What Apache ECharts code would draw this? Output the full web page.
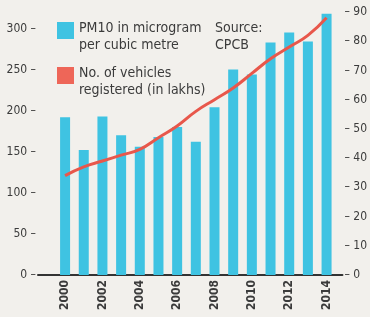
<!DOCTYPE html>
<html>
  <head>
    <meta charset="utf-8">
    <title>PM10 and vehicles</title>
    <script src="https://cdn.jsdelivr.net/npm/echarts@6/dist/echarts.min.js"></script>
    <style>
      html, body { margin: 0; padding: 0; background: #f2f0ec; }
      #main { width: 370px; height: 317px; }
    </style>
  </head>
  <body>
    <div id="main"></div>
    <script type="text/javascript">
    var years = [2000, 2001, 2002, 2003, 2004, 2005, 2006, 2007, 2008, 2009, 2010, 2011, 2012, 2013, 2014];
    var pm10 = [192, 152, 193, 170, 156, 168, 180, 162, 204, 250, 244, 283, 295, 284, 318];
    var vehicles = [34, 37, 39, 41, 43, 47, 51, 56, 60, 64, 69, 74, 78, 82, 88];
    var yearLabels = [2000, 2002, 2004, 2006, 2008, 2010, 2012, 2014];
    var leftTicks = [0, 50, 100, 150, 200, 250, 300];

    var font = '"DejaVu Sans Condensed", "Liberation Sans Narrow", sans-serif';
    var ink = '#3b3b3b';
    var cyan = '#3fc3e2';
    var red = '#e8574b';

    var myChart = echarts.init(document.getElementById('main'));

    function pairs(vals) {
        return vals.map(function (v, i) { return [years[i], v]; });
    }

    myChart.setOption({
        backgroundColor: '#f2f0ec',
        animation: false,
        textStyle: { fontFamily: font },
        grid: { left: 38, right: 27, top: 12, bottom: 42 },
        xAxis: {
            type: 'value',
            min: 1998.55,
            max: 2014.85,
            splitLine: { show: false },
            axisLine: { show: true, lineStyle: { color: '#333', width: 2 } },
            axisTick: { show: false },
            axisLabel: {
                customValues: yearLabels,
                rotate: 90,
                margin: 5,
                color: ink,
                fontSize: 12,
                fontWeight: 'bold',
                fontFamily: font,
                formatter: function (v) { return String(v); }
            }
        },
        yAxis: [{
            type: 'value',
            min: 0,
            max: 320,
            interval: 50,
            splitLine: { show: false },
            axisLine: { show: false },
            axisTick: { show: false },
            axisLabel: {
                margin: 2,
                color: ink,
                fontSize: 12,
                fontFamily: font,
                formatter: function (v) {
                    return leftTicks.indexOf(v) < 0 ? '' : v + ' \u2013';
                }
            }
        }, {
            type: 'value',
            min: 0,
            max: 90,
            interval: 10,
            splitLine: { show: false },
            axisLine: { show: false },
            axisTick: { show: false },
            axisLabel: {
                margin: 2,
                color: ink,
                fontSize: 12,
                fontFamily: font,
                formatter: function (v) { return '\u2013 ' + v; }
            }
        }],
        series: [{
            name: 'PM10 in microgram\nper cubic metre',
            type: 'bar',
            barWidth: 10,
            itemStyle: { color: cyan },
            data: pairs(pm10),
            z: 2
        }, {
            name: 'No. of vehicles\nregistered (in lakhs)',
            type: 'line',
            yAxisIndex: 1,
            smooth: true,
            showSymbol: false,
            lineStyle: { color: red, width: 3 },
            itemStyle: { color: red },
            data: pairs(vehicles),
            z: 3
        }],
        graphic: [
            { type: 'rect', left: 57, top: 22, shape: { width: 17, height: 17 }, style: { fill: cyan } },
            { type: 'text', left: 79, top: 20, style: { text: 'PM10 in microgram\nper cubic metre', font: '14px ' + font, lineHeight: 17, fill: ink } },
            { type: 'rect', left: 57, top: 67, shape: { width: 17, height: 17 }, style: { fill: '#ee6658' } },
            { type: 'text', left: 79, top: 65, style: { text: 'No. of vehicles\nregistered (in lakhs)', font: '14px ' + font, lineHeight: 17, fill: ink } },
            { type: 'text', left: 215, top: 20, style: { text: 'Source:\nCPCB', font: '14px ' + font, lineHeight: 17, fill: ink } }
        ]
    });
    </script>
  </body>
</html>
